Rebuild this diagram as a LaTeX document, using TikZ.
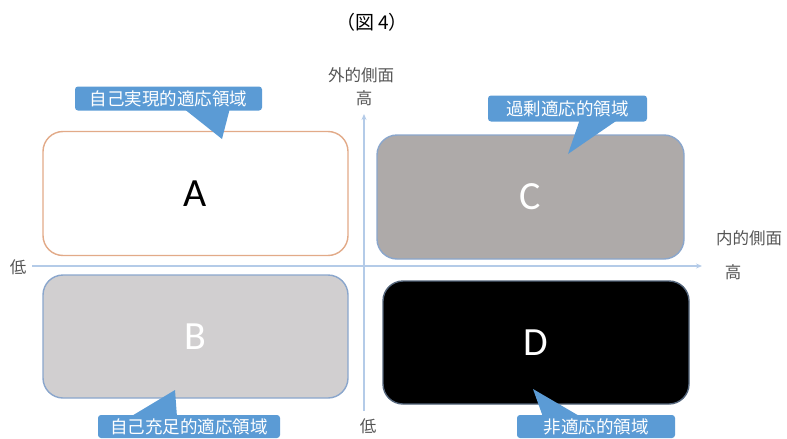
\documentclass[tikz,border=0pt]{standalone}
\usepackage{fontspec}
\setmainfont{Carlito}
\newfontfamily\cjk{Noto Sans CJK JP}
\usetikzlibrary{arrows.meta}
\definecolor{callblue}{HTML}{5B9BD5}
\definecolor{axisblue}{HTML}{B4CBE8}
\definecolor{boxedge}{HTML}{8AA6CC}
\definecolor{orangeedge}{HTML}{E2AA88}
\definecolor{greyC}{HTML}{AEAAA9}
\definecolor{greyB}{HTML}{D1CFD0}
\definecolor{labgrey}{HTML}{555555}
\tikzset{
  quad/.style={rounded corners=20pt, line width=1.4pt, minimum width=#1, minimum height=124pt, inner sep=0pt, font=\fontsize{40}{40}\selectfont},
  call/.style={fill=callblue, rounded corners=3pt, text=white, inner sep=0pt, font=\cjk\fontsize{17.5}{18}\selectfont},
  ptr/.style={fill=callblue},
  axl/.style={text=labgrey, font=\cjk\fontsize{16.5}{17}\selectfont, inner sep=0pt},
  axis/.style={draw=axisblue, line width=1.1pt}
}
\begin{document}
\begin{tikzpicture}[x=1pt,y=-1pt]
\useasboundingbox (0,0) rectangle (787,439);
\node[font=\cjk\fontsize{19}{19}\selectfont, inner sep=0pt] (title) at (372,22) {（図 4）};
% axes
\coordinate (hl) at (32,266);
\coordinate (hr) at (702,266);
\coordinate (vb) at (364,411);
\coordinate (vt) at (364,114);
\draw[axis, -{Stealth[length=6pt,width=5pt]}] (hl) -- (hr);
\draw[axis, -{Stealth[length=6pt,width=5pt]}] (vb) -- (vt);
% boxes
\node[quad=305pt, draw=orangeedge, fill=white] (A) at (195.5,193.5) {A};
\node[quad=307pt, draw=boxedge, fill=greyC, text=white] (C) at (530.5,197) {C};
\node[quad=305pt, minimum height=123pt, draw=boxedge, fill=greyB, text=white] (B) at (195.5,336.5) {B};
\node[quad=306pt, minimum height=123pt, draw=boxedge!60!black, fill=black, text=white] (D) at (536,342.5) {D};
% axis labels
\node[axl] (outer) at (361,75) {外的側面};
\node[axl] (outerhi) at (364,98) {高};
\node[axl] (inner) at (749,238) {内的側面};
\node[axl] (innerhi) at (733,272) {高};
\node[axl] (leftlo) at (18,267) {低};
\node[axl] (botlo) at (368,426) {低};
% callouts
\node[call, minimum width=187pt, minimum height=24pt] (c1) at (168.5,98.5) {自己実現的適応領域};
\coordinate (t1) at (222,139);
\coordinate (b1l) at (183,108);
\coordinate (b1r) at (230,108);
\fill[ptr] (b1l) -- (t1) -- (b1r) -- cycle;
\node[call, minimum width=159pt, minimum height=26pt] (c2) at (567.5,108.5) {過剰適応的領域};
\coordinate (t2) at (568,154);
\coordinate (b2l) at (580,119);
\coordinate (b2r) at (619,119);
\fill[ptr] (b2l) -- (t2) -- (b2r) -- cycle;
\node[call, minimum width=182pt, minimum height=23pt] (c3) at (189,426.5) {自己充足的適応領域};
\coordinate (t3) at (175,390);
\coordinate (b3l) at (130,417);
\coordinate (b3r) at (177,417);
\fill[ptr] (b3l) -- (t3) -- (b3r) -- cycle;
\node[call, minimum width=158pt, minimum height=23pt] (c4) at (596,426.5) {非適応的領域};
\coordinate (t4) at (533,389);
\coordinate (b4l) at (543,417);
\coordinate (b4r) at (581,417);
\fill[ptr] (b4l) -- (t4) -- (b4r) -- cycle;
\end{tikzpicture}
\end{document}
